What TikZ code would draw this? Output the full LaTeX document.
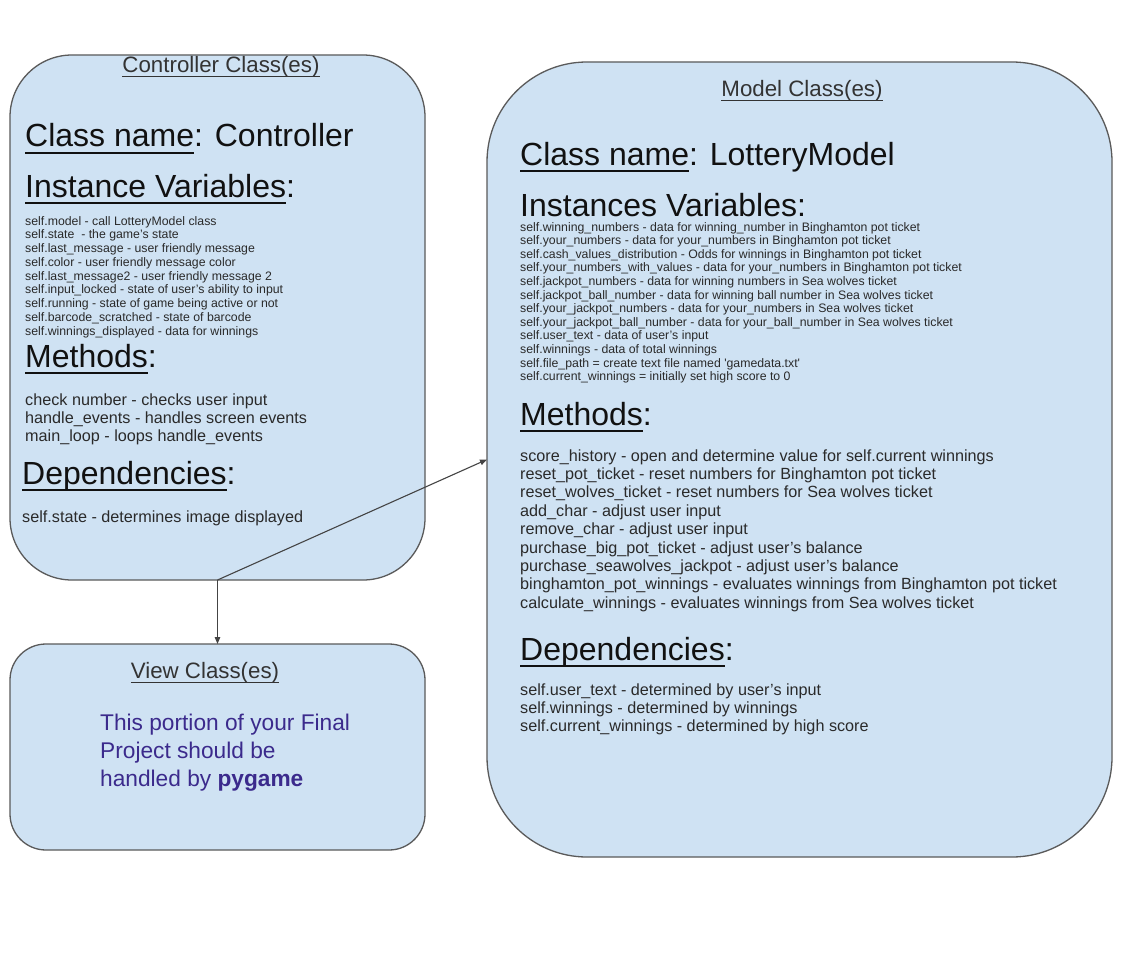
\documentclass[tikz,border=0pt]{standalone}
\usepackage{fontspec}
\setmainfont{Liberation Sans}
\usetikzlibrary{arrows.meta}
\definecolor{boxfill}{HTML}{CFE2F3}
\definecolor{boxline}{HTML}{5A5A5A}
\definecolor{headc}{HTML}{333333}
\definecolor{bodyc}{HTML}{111111}
\definecolor{smallc}{HTML}{2A2A2A}
\definecolor{connc}{HTML}{444444}
\definecolor{viewc}{HTML}{3B2A8C}
\newcommand\ulin[3]{\setbox0\hbox{#3}\rlap{\vrule width\wd0 height -#1 depth \dimexpr#1+#2\relax}\box0}
\begin{document}
\begin{tikzpicture}[x=1pt,y=-1pt,
  box/.style={draw=boxline, fill=boxfill, line width=1.3pt, inner sep=0pt, outer sep=0pt, rectangle},
  head/.style={anchor=base, inner sep=0pt, font=\fontsize{22.3}{26}\selectfont, text=headc},
  big/.style={anchor=base west, inner sep=0pt, font=\fontsize{32}{38}\selectfont, text=bodyc},
  mid/.style={anchor=base west, inner sep=0pt, font=\fontsize{16.2}{19}\selectfont, text=smallc},
  small/.style={anchor=base west, inner sep=0pt, font=\fontsize{12.3}{14}\selectfont, text=smallc},
  viewtext/.style={anchor=base west, inner sep=0pt, font=\fontsize{22.7}{27}\selectfont, text=viewc},
  conn/.style={draw=connc, line width=1.1pt, -{Triangle[length=7pt,width=5.5pt]}}]
\useasboundingbox (0,0) rectangle (1131,952);
\fill[white] (0,0) rectangle (1131,952);

% boxes
\node[box, minimum width=415pt, minimum height=525pt, rounded corners=62pt] (ctrl) at (217.5,317.5) {};
\node[box, minimum width=625pt, minimum height=795pt, rounded corners=100pt] (model) at (799.5,459.5) {};
\node[box, minimum width=415pt, minimum height=206pt, rounded corners=36pt] (view) at (217.5,747) {};

% connectors
\draw[conn] (ctrl.south) -- (view.north);
\draw[conn] (ctrl.south) -- (model.west);

% controller
\node[head] (ctrlh) at (221,73) {\ulin{3.5pt}{1pt}{Controller Class(es)}};
\node[big] (ccn) at (25,147) {\ulin{5pt}{2pt}{Class name}: Controller};
\node[big] (civ) at (25,197) {\ulin{5pt}{2pt}{Instance Variables}:};
\foreach \t [count=\i] in {
  self.model - call LotteryModel class,
  self.state\ \ - the game’s state,
  self.last\_message - user friendly message,
  self.color - user friendly message color,
  self.last\_message2 - user friendly message 2,
  self.input\_locked - state of user’s ability to input,
  self.running - state of game being active or not,
  self.barcode\_scratched - state of barcode,
  self.winnings\_displayed - data for winnings}
  \node[small] (cv\i) at (25,{225+13.75*(\i-1)}) {\t};
\node[big] (cm) at (25,367) {\ulin{5pt}{2pt}{Methods}:};
\foreach \t [count=\i] in {
  check number - checks user input,
  handle\_events - handles screen events,
  main\_loop - loops handle\_events}
  \node[mid] (cmm\i) at (25,{405+18.4*(\i-1)}) {\t};
\node[big] (cd) at (22,484) {\ulin{5pt}{2pt}{Dependencies}:};
\node[mid] (cdd1) at (22,522) {self.state - determines image displayed};

% model
\node[head] (modelh) at (802,97) {\ulin{3.5pt}{1pt}{Model Class(es)}};
\node[big] (mcn) at (520,165) {\ulin{5pt}{2pt}{Class name}: LotteryModel};
\node[big] (miv) at (520,216) {Instances Variables:};
\foreach \t [count=\i] in {
  self.winning\_numbers - data for winning\_number in Binghamton pot ticket,
  self.your\_numbers - data for your\_numbers in Binghamton pot ticket,
  self.cash\_values\_distribution - Odds for winnings in Binghamton pot ticket,
  self.your\_numbers\_with\_values - data for your\_numbers in Binghamton pot ticket,
  self.jackpot\_numbers - data for winning numbers in Sea wolves ticket,
  self.jackpot\_ball\_number - data for winning ball number in Sea wolves ticket,
  self.your\_jackpot\_numbers - data for your\_numbers in Sea wolves ticket,
  self.your\_jackpot\_ball\_number - data for your\_ball\_number in Sea wolves ticket,
  self.user\_text - data of user’s input,
  self.winnings - data of total winnings,
  self.file\_path = create text file named \textquotesingle gamedata.txt\textquotesingle,
  self.current\_winnings = initially set high score to 0}
  \node[small] (mv\i) at (520,{231+13.6*(\i-1)}) {\t};
\node[big] (mm) at (520,425) {\ulin{5pt}{2pt}{Methods}:};
\foreach \t [count=\i] in {
  score\_history - open and determine value for self.current winnings,
  reset\_pot\_ticket - reset numbers for Binghamton pot ticket,
  reset\_wolves\_ticket - reset numbers for Sea wolves ticket,
  add\_char - adjust user input,
  remove\_char - adjust user input,
  purchase\_big\_pot\_ticket - adjust user’s balance,
  purchase\_seawolves\_jackpot - adjust user’s balance,
  binghamton\_pot\_winnings - evaluates winnings from Binghamton pot ticket,
  calculate\_winnings - evaluates winnings from Sea wolves ticket}
  \node[mid] (mmm\i) at (520,{461+18.4*(\i-1)}) {\t};
\node[big] (md) at (520,660) {\ulin{5pt}{2pt}{Dependencies}:};
\foreach \t [count=\i] in {
  self.user\_text - determined by user’s input,
  self.winnings - determined by winnings,
  self.current\_winnings - determined by high score}
  \node[mid] (mdd\i) at (520,{695+18.4*(\i-1)}) {\t};

% view
\node[head] (viewh) at (205,678) {\ulin{3.5pt}{1pt}{View Class(es)}};
\node[viewtext] (vt1) at (100,730) {This portion of your Final};
\node[viewtext] (vt2) at (100,758) {Project should be};
\node[viewtext] (vt3) at (100,786) {handled by \textbf{pygame}};
\end{tikzpicture}
\end{document}
